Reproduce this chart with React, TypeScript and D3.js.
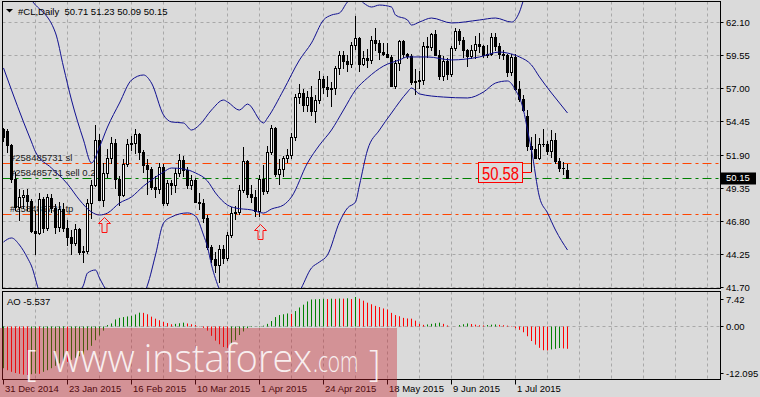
import React from 'react';
import * as d3 from 'd3';

const W = 760;
const H = 397;

// ---------- data ----------
const opens = [53.87,53.76,52.69,50.04,47.93,48.65,48.79,48.36,46.07,45.89,48.48,46.25,48.60,47.80,46.39,47.78,46.31,45.59,45.15,46.23,44.45,44.53,48.24,49.57,53.05,48.45,50.48,51.69,52.86,50.02,48.84,51.21,52.78,52.80,53.53,52.14,51.16,50.81,49.45,49.25,50.99,48.17,49.76,49.59,50.52,51.53,50.76,49.61,50.00,48.29,48.17,47.05,44.84,43.88,43.46,44.66,43.96,45.72,47.45,47.51,49.21,51.43,48.87,48.68,47.60,50.09,49.14,52.14,53.98,50.42,50.79,51.64,51.91,53.29,56.39,56.71,55.74,56.38,55.26,56.16,57.74,57.15,56.99,57.06,58.58,59.63,59.15,58.93,60.40,60.93,58.94,59.39,59.25,60.75,60.50,59.88,59.69,59.43,57.26,58.98,60.72,59.72,59.50,57.51,57.60,57.68,60.30,60.20,61.26,59.64,58.00,59.13,58.14,60.14,61.43,60.77,59.96,59.52,59.97,60.45,60.30,59.61,59.68,61.01,60.27,59.70,59.63,58.33,59.47,56.96,56.20,54.90,52.60,52.33,51.65,52.78,52.74,52.20,53.04,51.41,50.91,50.71];
const highs = [53.95,53.90,52.73,50.59,49.31,49.24,49.28,48.50,47.55,48.96,48.70,48.90,48.90,48.10,48.30,48.20,46.90,46.10,46.60,46.30,44.90,48.50,50.00,54.24,53.50,51.30,52.40,53.30,53.10,50.30,51.60,53.10,53.40,53.90,53.60,52.30,51.60,51.00,50.30,51.30,51.20,50.00,50.00,50.90,52.00,51.80,51.00,50.40,50.10,49.00,48.50,47.30,45.00,44.40,45.00,45.00,46.00,47.90,48.00,49.60,52.50,51.50,49.60,49.20,50.40,51.10,52.60,54.20,54.10,51.60,51.80,52.40,53.60,56.60,57.40,57.00,56.80,57.20,56.50,58.40,58.00,58.00,57.50,58.80,59.90,59.90,59.60,60.60,62.58,61.00,59.90,60.10,61.10,61.70,60.80,60.50,60.50,59.60,59.20,60.80,60.80,59.80,59.70,58.50,58.40,60.60,61.00,61.30,61.50,60.00,59.50,59.40,60.30,61.70,61.60,61.00,60.10,60.40,61.10,61.30,60.40,60.40,61.30,61.30,60.50,60.00,59.70,59.70,59.70,57.60,56.50,55.40,53.30,53.50,53.20,53.90,53.00,53.80,53.60,51.70,51.40,51.23];
const lows = [52.90,52.03,49.77,47.55,46.83,47.75,47.55,45.90,44.20,45.70,45.93,46.02,47.40,45.80,46.00,46.00,44.90,44.20,44.90,44.20,43.58,44.30,47.00,49.40,48.40,47.90,50.10,51.20,49.30,48.00,48.70,51.00,52.20,52.00,51.50,50.50,48.80,49.20,48.60,48.90,48.00,48.00,48.80,49.00,50.20,50.20,49.30,49.20,48.20,47.70,46.70,44.60,43.60,42.80,42.03,43.50,43.70,45.50,46.90,47.30,49.00,48.60,48.20,47.10,47.10,48.80,48.90,51.90,50.20,49.60,50.20,51.30,51.60,53.00,55.80,55.20,55.20,54.90,54.40,55.80,56.60,56.40,55.60,56.50,58.10,58.50,58.30,58.60,60.00,58.30,58.80,58.60,58.90,59.90,59.20,59.50,59.40,57.20,57.00,58.40,59.40,59.30,57.30,56.50,57.00,57.30,59.40,59.90,59.50,57.70,57.60,57.70,57.90,59.90,60.40,59.40,58.70,59.30,59.30,59.80,59.40,59.40,59.50,59.90,59.30,59.20,57.90,58.00,56.80,56.00,55.20,52.20,50.58,51.60,51.50,52.50,51.90,51.70,51.20,50.60,50.40,50.09];
const closes = [53.27,52.69,50.04,47.93,48.65,48.79,48.36,46.07,45.89,48.48,46.25,48.69,47.80,46.39,47.78,46.31,45.59,45.15,46.23,44.45,44.53,48.24,49.57,53.05,48.45,50.48,51.69,52.86,50.02,48.84,51.21,52.78,52.80,53.53,52.14,51.16,50.81,49.45,49.25,50.99,48.17,49.76,49.59,50.52,51.53,50.76,49.61,50.00,48.29,48.17,47.05,44.84,43.88,43.46,44.66,43.96,45.72,47.45,47.51,49.21,51.43,48.87,48.68,47.60,50.09,49.14,52.14,53.98,50.42,50.79,51.64,51.91,53.29,56.39,56.71,55.74,56.38,55.26,56.16,57.74,57.15,56.99,57.06,58.58,59.63,59.15,58.93,60.40,60.93,58.94,59.39,59.25,60.75,60.50,59.88,59.69,59.43,57.26,58.98,60.72,59.72,59.50,57.51,57.60,57.68,60.30,60.20,61.26,59.64,58.00,59.13,58.14,60.14,61.43,60.77,59.96,59.52,59.97,60.45,60.30,59.61,59.68,61.01,60.27,59.70,59.63,58.33,59.47,56.96,56.20,55.40,52.60,52.33,51.65,52.78,52.74,52.20,53.04,51.41,50.91,50.89,50.15];

// Bollinger bands read at sample bars: [barIndex, price]
const bbUpper: [number, number][] = [[0,67.32],[7,63.85],[13,61.31],[15,58.69],[17,56.14],[20,53.06],[22,51.29],[24,52.52],[26,54.06],[29,55.91],[32,57.68],[35,58.07],[37,57.45],[40,54.99],[42,54.45],[45,54.37],[47,53.83],[49,54.22],[52,55.37],[55,56.14],[56,55.99],[59,55.37],[61,55.83],[65,54.37],[66,54.76],[70,56.91],[74,59.23],[77,60.54],[80,62.31],[82,62.69],[84,62.85],[86,63.70],[88,64.16],[90,63.62],[92,63.31],[94,63.46],[97,63.31],[98,62.69],[101,62.31],[102,61.92],[104,62.15],[107,62.46],[112,62.08],[119,62.31],[123,62.46],[127,62.15],[129,62.93],[130,63.85],[132,65.39],[134,67.16],[137,66.47],[141,65.70]];
const bbMiddle: [number, number][] = [[0,58.61],[2,56.91],[5,54.45],[7,52.91],[8,52.14],[12,50.90],[16,49.67],[19,48.44],[22,47.51],[24,47.28],[26,47.43],[29,48.20],[32,48.67],[35,49.51],[37,49.98],[40,50.59],[42,50.90],[45,50.83],[48,50.52],[51,49.90],[53,48.98],[56,48.05],[58,47.82],[62,47.67],[65,47.43],[67,47.74],[70,48.05],[72,48.67],[76,51.29],[79,52.67],[82,53.83],[85,55.37],[88,56.91],[91,57.84],[95,58.76],[99,59.23],[101,59.46],[106,59.46],[112,59.23],[119,59.46],[124,59.84],[126,59.76],[129,59.46],[132,58.84],[134,57.92],[137,56.68],[139,55.91],[141,55.14]];
const bbLower: [number, number][] = [[0,45.20],[2,45.51],[4,44.97],[6,43.97],[7,43.35],[9,41.35],[12,40.34],[15,40.57],[18,41.12],[20,41.88],[21,42.81],[23,43.04],[24,42.42],[26,41.35],[29,40.73],[32,40.73],[35,41.12],[36,41.88],[38,44.20],[40,46.66],[42,47.13],[46,47.44],[48,47.20],[50,45.74],[51,44.81],[52,43.43],[54,41.50],[56,39.96],[60,39.34],[64,39.34],[68,39.96],[72,40.73],[74,41.42],[77,43.20],[79,43.66],[81,44.20],[84,46.74],[86,47.82],[88,48.28],[89,49.59],[91,52.29],[94,53.83],[97,55.14],[101,56.76],[102,57.07],[104,56.61],[110,56.37],[116,56.30],[120,56.76],[123,57.45],[126,57.61],[128,56.91],[130,55.37],[131,53.83],[132,52.29],[134,48.65],[136,47.44],[138,46.12],[141,44.58]];

const ao = [-10.4,-10.9,-11.3,-11.6,-11.8,-12.0,-12.095,-11.9,-11.75,-11.8,-11.3,-10.9,-10.4,-9.8,-9.2,-8.7,-8.8,-8.3,-7.8,-7.4,-7.0,-5.9,-4.8,-3.4,-2.2,-1.0,0.4,0.8,1.8,2.2,2.4,2.55,2.7,3.05,3.5,3.45,3.1,2.5,2.0,1.6,1.2,0.9,0.6,0.7,0.85,1.0,0.8,0.6,0.4,0.1,-0.3,-1.0,-2.3,-3.5,-4.4,-5.1,-5.3,-4.6,-3.4,-2.1,-1.2,-0.4,-0.1,0.05,0.15,0.25,0.7,1.4,2.4,2.9,3.1,3.3,3.2,3.9,4.8,5.5,6.3,6.8,6.85,6.9,6.95,6.9,7.0,6.95,7.05,7.0,7.1,6.9,7.42,7.0,6.5,6.0,5.6,5.2,4.9,4.55,4.3,3.45,2.9,2.6,2.2,2.05,2.0,1.5,0.7,0.45,0.55,0.7,0.85,1.0,0.7,0.3,0.05,0.02,0.4,0.6,0.8,0.65,0.5,0.35,0.3,0.4,0.5,0.55,0.45,0.35,0.25,-0.05,-0.4,-0.8,-1.4,-2.4,-3.6,-4.5,-5.3,-5.9,-5.95,-5.7,-5.55,-5.35,-5.45,-5.537];

const priceTicks = [62.10, 59.55, 57.00, 54.45, 51.90, 49.35, 46.80, 44.25, 41.70];
const aoTicks = [7.42, 0.0, -12.095];
const aoTickText = ['7.42', '0.00', '-12.095'];
const dateIdx = [0, 16, 32, 48, 64, 80, 96, 112, 128];
const dateText = ['31 Dec 2014', '23 Jan 2015', '16 Feb 2015', '10 Mar 2015', '1 Apr 2015', '24 Apr 2015', '18 May 2015', '9 Jun 2015', '1 Jul 2015'];

const orderPrices = [51.26, 50.08, 47.33];
const orderTexts = ['#258485731 sl', '#258485731 sell 0.2', '#258485731 tp'];
const orderKinds = ['stop', 'entry', 'stop'];

const arrowIdx = [25, 64];
const arrowPrice = [47.12, 46.59];
const labelIdx = 132;
const labelPrice = 50.58;
const lastPrice = 50.15;
const titleText = '#CL,Daily  50.71 51.23 50.09 50.15';
const aoText = 'AO -5.537';

// ---------- layout ----------
const BG = '#dadada';
const FONT = '"Liberation Sans", Arial, sans-serif';
const left = 2.5, right = 720.5, mainTop = 1.5, mainBottom = 288.5, aoTop = 291.5, aoBottom = 379.5;

const x = d3.scaleLinear().domain([0, 141]).range([3.5, 567.5]);
const y = d3.scaleLinear().domain([41.70, 62.10]).range([287.4, 22.7]);
const ya = d3.scaleLinear().domain([-12.095, 7.42]).range([375, 297]);
const crisp = (v: number) => Math.floor(v) + 0.5;

export default function App() {
  const band = d3.line<[number, number]>().x(d => x(d[0])).y(d => y(d[1])).curve(d3.curveMonotoneX);
  const gridX = d3.range(8, 180, 8).map(i => crisp(x(i))).filter(v => v < right);
  const zeroY = crisp(ya(0));
  const anchorX = x(labelIdx);
  const anchorY = crisp(y(labelPrice));

  return (
    <svg width={W} height={H} style={{ position: 'absolute', left: 0, top: 0 }} fontFamily={FONT}>
      <defs>
        <clipPath id="mainClip"><rect x={left + 0.5} y={mainTop + 0.5} width={right - left - 1} height={mainBottom - mainTop - 1} /></clipPath>
      </defs>
      <rect x={0} y={0} width={W} height={H} fill={BG} />

      {/* grid */}
      <g stroke="#a8a8a8" strokeDasharray="3,3" strokeWidth={1}>
        {gridX.map((gx, k) => <line key={'gm' + k} x1={gx} x2={gx} y1={mainTop} y2={mainBottom} />)}
        {gridX.map((gx, k) => <line key={'ga' + k} x1={gx} x2={gx} y1={aoTop} y2={aoBottom} />)}
        {priceTicks.map((p, k) => <line key={'gh' + k} x1={left} x2={right} y1={crisp(y(p))} y2={crisp(y(p))} />)}
        <line x1={left} x2={right} y1={zeroY} y2={zeroY} />
      </g>

      {/* order lines */}
      <g clipPath="url(#mainClip)">
        {orderPrices.map((p, k) => (
          <line key={'ol' + k} x1={left} x2={right} y1={crisp(y(p))} y2={crisp(y(p))}
            stroke={orderKinds[k] === 'entry' ? '#008000' : '#ff4500'} strokeWidth={1} strokeDasharray="9,4,3,4" />
        ))}
        {orderTexts.map((t, k) => (
          <text key={'ot' + k} x={10} y={crisp(y(orderPrices[k])) - 2.5} fontSize={9.5} fill="#202020">{t}</text>
        ))}
      </g>

      {/* candles */}
      <g clipPath="url(#mainClip)">
        {closes.map((c, i) => {
          const o = opens[i];
          const cx = x(i);
          const top = Math.round(y(Math.max(o, c)));
          const bot = Math.round(y(Math.min(o, c)));
          const bull = c > o;
          return (
            <g key={'c' + i}>
              <line x1={cx} x2={cx} y1={Math.round(y(highs[i]))} y2={Math.round(y(lows[i]))} stroke="#000" strokeWidth={1} />
              {bot - top < 1
                ? <line x1={cx - 1.5} x2={cx + 1.5} y1={top + 0.5} y2={top + 0.5} stroke="#000" />
                : <rect x={cx - 1} y={top + 0.5} width={2} height={bot - top} fill={bull ? '#fff' : '#000'} stroke="#000" strokeWidth={1} />}
            </g>
          );
        })}
      </g>

      {/* bollinger bands */}
      <g clipPath="url(#mainClip)" fill="none" stroke="#101090" strokeWidth={1}>
        <path d={band(bbUpper) || ''} />
        <path d={band(bbMiddle) || ''} />
        <path d={band(bbLower) || ''} />
      </g>

      {/* arrows */}
      <g fill="none" stroke="#ff1010" strokeWidth={1}>
        {arrowIdx.map((ai, k) => {
          const ax = Math.round(x(ai)) + 0.5;
          const ay = Math.round(y(arrowPrice[k])) + 0.5;
          const d = `M${ax},${ay} L${ax + 6},${ay + 6} L${ax + 2.5},${ay + 6} L${ax + 2.5},${ay + 15} L${ax - 2.5},${ay + 15} L${ax - 2.5},${ay + 6} L${ax - 6},${ay + 6} Z`;
          return <path key={'ar' + k} d={d} />;
        })}
      </g>

      {/* price label 50.58 */}
      <g>
        <line x1={anchorX - 10} x2={anchorX} y1={anchorY} y2={anchorY} stroke="#ff0000" />
        <rect x={Math.round(anchorX - 54) + 0.5} y={anchorY - 10} width={44} height={20} fill={BG} stroke="#ff0000" strokeWidth={1} />
        <text x={Math.round(anchorX - 50)} y={anchorY + 7.5} fontSize={19} fill="#ff0000" textLength={37} lengthAdjust="spacingAndGlyphs">{labelPrice.toFixed(2)}</text>
      </g>

      {/* AO bars */}
      <g strokeWidth={1}>
        {ao.map((v, i) => {
          const up = i === 0 ? true : v > ao[i - 1];
          const bx = crisp(x(i));
          return <line key={'ao' + i} x1={bx} x2={bx} y1={zeroY} y2={ya(v)} stroke={up ? '#008000' : '#ff0000'} />;
        })}
      </g>

      {/* frames */}
      <g fill="none" stroke="#000" strokeWidth={1}>
        <rect x={left} y={mainTop} width={right - left} height={mainBottom - mainTop} />
        <rect x={left} y={aoTop} width={right - left} height={aoBottom - aoTop} />
      </g>

      {/* right price axis */}
      <g fontSize={9.5} fill="#000">
        {priceTicks.map((p, k) => (
          <g key={'pt' + k}>
            <line x1={right} x2={right + 3} y1={crisp(y(p))} y2={crisp(y(p))} stroke="#000" />
            <text x={726} y={y(p) + 3.5}>{p.toFixed(2)}</text>
          </g>
        ))}
        {aoTicks.map((v, k) => {
          const ty = Math.min(Math.max(ya(v), aoTop + 7.5), aoBottom - 6.5);
          return (
            <g key={'at' + k}>
              <line x1={right} x2={right + 3} y1={crisp(ty)} y2={crisp(ty)} stroke="#000" />
              <text x={726} y={ty + 3.5}>{aoTickText[k]}</text>
            </g>
          );
        })}
        <rect x={721} y={Math.round(y(lastPrice)) - 5.5} width={35} height={12} fill="#000" />
        <text x={726} y={y(lastPrice) + 3.5} fill="#fff">{lastPrice.toFixed(2)}</text>
      </g>

      {/* time axis */}
      <g fontSize={9.5} fill="#000">
        {dateIdx.map((di, k) => (
          <g key={'dt' + k}>
            <line x1={crisp(x(di))} x2={crisp(x(di))} y1={aoBottom} y2={aoBottom + 5} stroke="#000" />
            <text x={crisp(x(di)) + 1.5} y={392}>{dateText[k]}</text>
          </g>
        ))}
      </g>

      {/* titles */}
      <path d="M6,9 L13,9 L9.5,12.5 Z" fill="#000" />
      <text x={18} y={14.5} fontSize={9.5} fill="#000" style={{ whiteSpace: 'pre' }}>{titleText}</text>
      <text x={7} y={304.5} fontSize={9.5} fill="#000">{aoText}</text>

      {/* watermark */}
      <rect x={0} y={328} width={397} height={69} fill="rgb(200,30,40)" opacity={0.38} />
      <g fill="#ffffff" opacity={0.85} fontFamily='"Open Sans", "DejaVu Sans", sans-serif' fontWeight={300}>
        <text x={25} y={376} fontSize={36}>[</text>
        <text x={53} y={372} fontSize={38} textLength={259} lengthAdjust="spacingAndGlyphs">www.instaforex</text>
        <text transform="translate(313,372) scale(0.72,1)" fontSize={29} textLength={63} lengthAdjust="spacingAndGlyphs">.com</text>
        <text x={369} y={376} fontSize={36}>]</text>
      </g>
    </svg>
  );
}
